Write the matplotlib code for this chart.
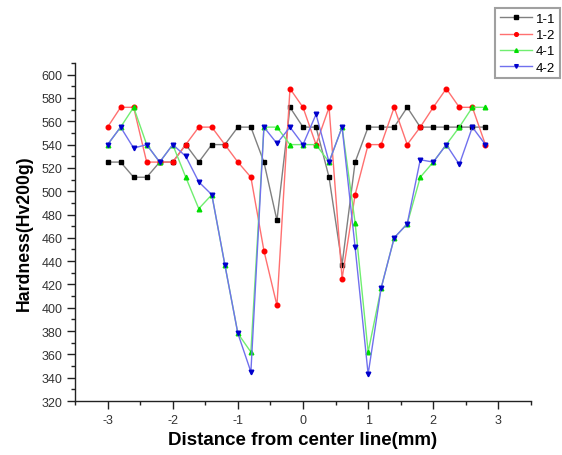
import matplotlib
matplotlib.use("Agg")
import matplotlib.pyplot as plt
from matplotlib.ticker import MultipleLocator

plt.rcParams['font.family'] = ['Liberation Sans', 'DejaVu Sans']

distance = [-3.0, -2.8, -2.6, -2.4, -2.2, -2.0, -1.8, -1.6, -1.4, -1.2,
            -1.0, -0.8, -0.6, -0.4, -0.2, 0.0, 0.2, 0.4, 0.6, 0.8,
            1.0, 1.2, 1.4, 1.6, 1.8, 2.0, 2.2, 2.4, 2.6, 2.8]

h_1_1 = [525, 525, 512, 512, 525, 525, 540, 525, 540, 540,
         555, 555, 525, 475, 572, 555, 555, 512, 437, 525,
         555, 555, 555, 572, 555, 555, 555, 555, 555, 555]

h_1_2 = [555, 572, 572, 525, 525, 525, 540, 555, 555, 540,
         525, 512, 449, 402, 588, 572, 540, 572, 425, 497,
         540, 540, 572, 540, 555, 572, 588, 572, 572, 540]

h_4_1 = [540, 555, 572, 540, 525, 540, 512, 485, 497, 437,
         378, 362, 555, 555, 540, 540, 540, 525, 555, 473,
         362, 417, 460, 472, 512, 525, 540, 555, 572, 572]

h_4_2 = [540, 555, 537, 540, 525, 540, 530, 508, 497, 437,
         378, 345, 555, 541, 555, 540, 566, 525, 555, 452,
         343, 417, 460, 472, 527, 525, 540, 523, 555, 540]

labels = ['1-1', '1-2', '4-1', '4-2']

fig = plt.figure(figsize=(5.62, 4.56), dpi=100)
ax = fig.add_axes([0.1335, 0.1184, 0.8113, 0.7412])

styles = [
    (h_1_1, 's', '#000000', '#808080'),
    (h_1_2, 'o', '#ff0000', '#ff7070'),
    (h_4_1, '^', '#00dd00', '#70ee70'),
    (h_4_2, 'v', '#0000cc', '#7070ee'),
]
for (vals, mk, mc, lc), lab in zip(styles, labels):
    ax.plot(distance, vals, color=lc, linewidth=1.0, marker=mk,
            markersize=3.3, markerfacecolor=mc, markeredgecolor=mc,
            label=lab)

ax.set_xlim(-3.5, 3.5)
ax.set_ylim(320, 610)
ax.xaxis.set_major_locator(MultipleLocator(1))
ax.xaxis.set_minor_locator(MultipleLocator(0.5))
ax.yaxis.set_major_locator(MultipleLocator(20))
ax.yaxis.set_minor_locator(MultipleLocator(10))
ax.set_xticks([-3, -2, -1, 0, 1, 2, 3])
ax.set_xticklabels(['-3', '-2', '-1', '0', '1', '2', '3'])

for s in ['top', 'right']:
    ax.spines[s].set_visible(False)
for s in ['left', 'bottom']:
    ax.spines[s].set_linewidth(1.0)
    ax.spines[s].set_color('#222222')

ax.tick_params(axis='both', which='major', direction='out', length=6,
               width=1.0, color='#222222', labelsize=9, labelcolor='#333333', pad=3)
ax.tick_params(axis='both', which='minor', direction='out', length=3,
               width=1.0, color='#222222')

ax.set_xlabel('Distance from center line(mm)', fontsize=13.5,
              fontweight='bold', labelpad=4)
ax.set_ylabel('Hardness(Hv200g)', fontsize=12.7, fontweight='bold', labelpad=6)

leg = fig.legend(loc='upper right', bbox_to_anchor=(0.996, 0.98),
                 fontsize=9.5, frameon=True, fancybox=False,
                 handlelength=2.4, handletextpad=0.3, labelspacing=0.3,
                 borderpad=0.35, borderaxespad=0, markerscale=0.8)
leg.get_frame().set_edgecolor('#888888')
leg.get_frame().set_linewidth(1.5)

fig.savefig('out.png', dpi=100)
